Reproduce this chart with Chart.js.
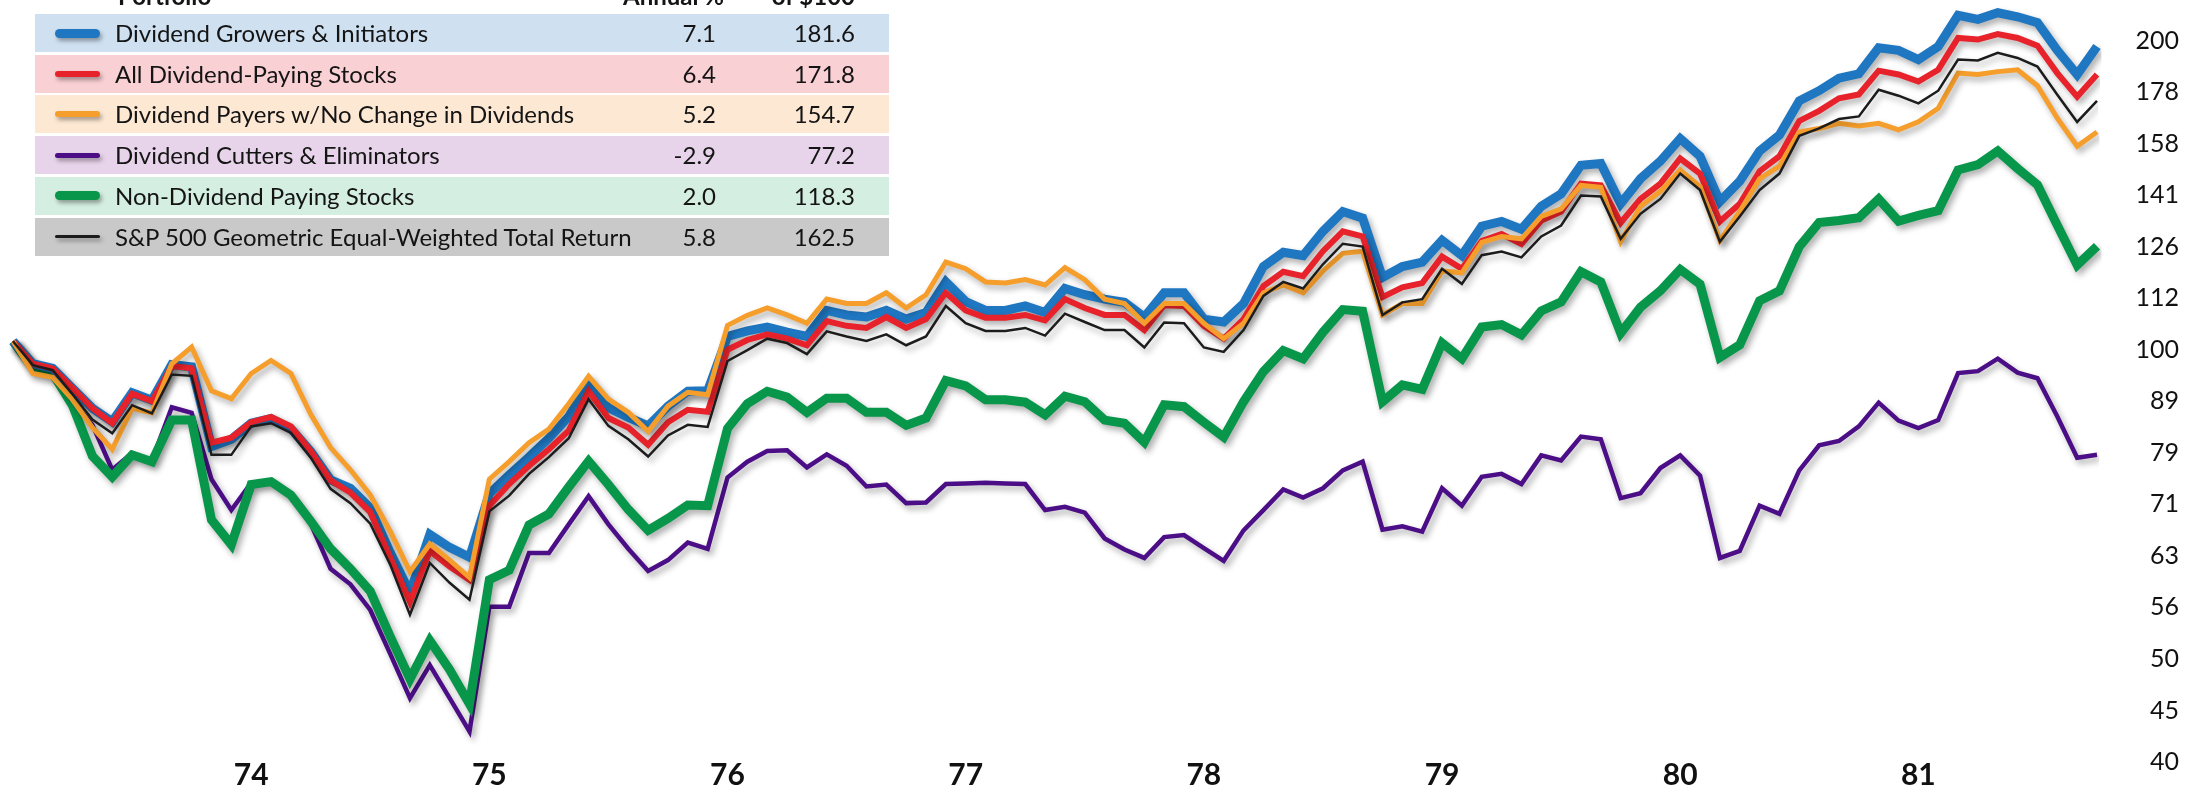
<!DOCTYPE html>
<html>
<head>
<meta charset="utf-8">
<title>Dividend portfolios</title>
<script src="https://cdn.jsdelivr.net/npm/chart.js@4.4.1/dist/chart.umd.min.js"></script>
<style>
    html, body { margin: 0; padding: 0; background: #fff; }
    body { width: 2205px; height: 792px; position: relative; overflow: hidden; font-family: Lato, 'Open Sans', sans-serif; color: #141414; }
    #chart { position: absolute; left: 0; top: 0; }
    #legend { position: absolute; left: 35px; top: 0; width: 854px; height: 260px; }
    .hdr { position: absolute; top: -40px; font-weight: 700; font-size: 24px; line-height: 24px; white-space: nowrap; }
    .row { position: absolute; left: 0; width: 854px; height: 38px; }
    .sw { position: absolute; left: 20px; width: 45px; border-radius: 5px; box-shadow: 2px 3px 4px rgba(0,0,0,.35); }
    .name { position: absolute; left: 80px; top: 0; line-height: 38px; font-size: 24px; white-space: nowrap; }
    .num { position: absolute; top: 0; line-height: 38px; font-size: 24px; text-align: right; white-space: nowrap; }
</style>
</head>
<body>
<canvas id="chart" width="2205" height="792"></canvas>
<div id="legend"></div>
<script>
// Monthly growth values, one point per month (first point early 1973)
const growers = [101.9,96.9,95.9,91.7,87.7,85.1,90.8,89.3,96.7,96.2,
    80.5,81.8,84.8,85.7,83.8,79.6,74.7,73.3,70.1,63.5,
    58.0,66.1,64.2,62.8,72.4,75.5,78.6,82.0,86.1,92.7,
    87.8,85.9,84.3,88.1,91.1,91.2,103.0,104.3,105.2,104.0,
    103.0,109.2,108.1,107.6,109.2,107.1,108.7,116.4,111.4,109.2,
    109.2,110.3,108.7,114.7,113.1,112.0,111.2,107.6,113.6,113.6,
    107.1,106.4,110.9,120.5,124.4,123.5,130.4,136.3,134.3,117.6,
    120.5,121.7,127.8,123.5,131.9,133.3,131.0,137.9,141.8,151.2,
    151.8,138.7,146.7,152.6,160.5,154.3,139.4,145.9,156.1,161.8,
    174.7,178.7,183.8,185.6,196.7,195.6,191.6,197.3,211.6,209.7,
    212.8,210.9,208.1,195.6,185.3,197.3];
const allPayers = [101.9,96.9,95.9,91.8,87.7,84.8,90.6,89.1,96.4,95.9,
    81.2,82.1,85.0,86.0,84.2,79.7,74.6,72.6,69.5,62.8,
    56.8,63.7,61.5,59.7,70.5,74.0,77.1,80.0,83.4,91.1,
    85.8,84.0,80.8,85.0,87.4,87.0,100.0,102.2,103.5,102.5,
    101.0,106.6,105.5,105.0,107.6,105.0,107.1,113.6,109.2,107.4,
    107.4,108.1,106.8,112.0,109.8,108.1,108.1,104.5,110.5,110.3,
    105.5,102.5,107.1,115.3,119.1,117.9,124.7,130.4,128.9,112.5,
    115.0,116.1,123.2,119.9,127.6,129.6,126.7,133.6,136.3,145.1,
    144.5,132.9,140.2,145.1,153.5,148.4,133.3,138.7,149.2,154.3,
    167.0,170.8,175.7,177.2,186.9,185.3,182.4,187.3,201.1,200.4,
    202.9,201.1,197.7,185.9,176.3,185.3];
const noChange = [101.9,94.8,94.0,89.4,84.0,80.0,87.7,86.8,96.9,100.6,
    91.2,89.6,94.8,97.6,94.8,86.5,80.3,76.4,72.2,66.6,
    60.8,64.7,62.4,60.0,74.8,77.8,81.2,83.7,88.6,94.2,
    89.5,86.9,83.3,88.1,90.9,90.4,105.6,108.0,109.8,108.1,
    106.1,112.0,110.9,110.9,113.6,109.8,113.1,121.7,119.9,116.4,
    116.1,117.0,115.6,120.2,117.0,112.0,110.9,106.1,110.9,110.9,
    106.1,102.5,106.1,113.6,115.6,113.6,119.3,124.1,124.7,108.1,
    110.9,110.9,119.3,118.8,127.2,128.9,128.2,134.8,137.1,144.5,
    143.9,127.4,137.9,142.6,149.6,144.2,127.7,136.3,146.7,150.9,
    162.9,164.2,166.1,165.1,166.1,163.7,166.7,171.8,185.9,185.3,
    186.5,187.3,180.7,168.0,157.8,162.9];
const cutters = [101.9,96.6,95.5,89.3,84.5,76.4,79.3,78.0,87.9,86.8,
    74.8,69.8,74.2,74.6,72.2,67.7,61.2,59.1,55.8,50.6,
    45.8,49.3,45.8,42.5,56.2,56.2,63.4,63.4,67.6,72.0,
    67.6,64.0,60.9,62.4,64.9,64.0,75.1,77.8,79.7,79.8,
    76.8,79.1,77.1,73.6,73.9,70.9,71.0,74.0,74.1,74.2,
    74.1,74.0,69.8,70.3,69.4,65.5,63.9,62.7,65.7,66.0,
    64.1,62.3,66.7,69.8,73.1,71.8,73.3,76.3,77.8,66.8,
    67.3,66.5,73.3,70.5,75.2,75.7,74.0,78.9,78.0,82.3,
    81.8,71.7,72.5,76.7,78.9,75.4,62.7,63.7,70.5,69.2,
    76.3,80.7,81.5,84.2,88.8,85.3,83.9,85.4,94.9,95.3,
    98.0,95.0,93.8,86.1,78.5,79.0];
const nonPayers = [101.9,95.9,94.8,88.2,78.8,75.2,79.0,77.8,85.4,85.4,
    68.3,64.6,73.9,74.4,72.2,68.1,64.0,61.2,58.2,52.6,
    47.8,52.1,48.8,45.2,59.7,61.0,67.5,69.2,73.5,77.9,
    73.9,69.9,66.7,68.5,70.6,70.5,83.8,88.6,91.1,89.9,
    86.9,89.7,89.7,86.9,86.9,84.4,85.8,93.3,92.2,89.4,
    89.4,88.9,86.4,90.1,89.0,85.4,84.8,81.3,88.4,88.0,
    85.0,82.2,89.0,95.2,99.8,98.0,104.0,109.4,109.0,89.0,
    92.4,91.5,101.5,98.0,105.2,105.8,103.4,109.1,111.3,119.1,
    116.4,103.8,110.0,114.1,119.7,115.8,98.3,101.1,111.6,114.1,
    126.0,133.0,133.6,134.4,140.2,133.4,135.1,136.6,149.6,151.4,
    156.1,150.1,144.7,132.2,120.9,126.1];
const equalWeighted = [101.9,96.6,95.5,90.5,85.5,82.9,88.3,86.7,94.6,94.3,
    79.0,79.0,84.2,84.8,83.0,78.5,73.2,70.9,67.7,61.8,
    55.2,62.0,59.3,57.1,69.6,72.1,75.7,78.6,82.0,89.5,
    84.3,81.8,78.7,82.5,84.5,84.1,97.5,99.9,102.5,101.5,
    99.0,104.2,103.0,102.0,103.5,101.0,103.0,110.3,106.1,104.3,
    104.3,105.0,103.2,108.4,106.4,104.5,104.5,100.5,106.3,106.1,
    100.5,99.5,104.5,112.8,116.4,114.7,121.1,126.8,126.0,108.1,
    111.2,112.0,119.9,115.9,123.6,124.6,123.0,128.9,132.1,141.3,
    141.0,128.2,135.6,140.2,148.4,143.0,127.4,134.8,143.0,148.4,
    161.5,164.2,167.7,168.7,179.1,176.7,173.7,178.7,191.6,191.2,
    194.5,192.3,188.6,177.1,166.6,174.7];

const seriesNames = ['Dividend Growers & Initiators', 'All Dividend-Paying Stocks',
    'Dividend Payers w/No Change in Dividends', 'Dividend Cutters & Eliminators',
    'Non-Dividend Paying Stocks', 'S&P 500 Geometric Equal-Weighted Total Return'];
const annualPct = ['7.1', '6.4', '5.2', '-2.9', '2.0', '5.8'];
const growthOf100 = ['181.6', '171.8', '154.7', '77.2', '118.3', '162.5'];
const headerTop = ['', '', 'Growth'];
const headerBottom = ['Portfolio', 'Annual %', 'of $100'];

const yearLabels = ['74', '75', '76', '77', '78', '79', '80', '81'];
const yTickLabels = ['40', '45', '50', '56', '63', '71', '79', '89', '100', '112', '126', '141', '158', '178', '200'];

// styles
const lineColors = ['#1f77c2', '#e8222a', '#f59e2c', '#4b0e86', '#07964a', '#1c1c1c'];
const rowColors = ['#cfe1f1', '#f9d0d4', '#fde8d4', '#e8d4ea', '#d4eee1', '#c9c9c9'];
const lineWidths = [9, 6, 5, 4.5, 9, 2.5];
const swatchHeights = [9, 6, 6, 5, 9, 3];
const drawOrder = [3, 2, 1, 5, 4, 0]; // lower = drawn on top

const seriesData = [growers, allPayers, noChange, cutters, nonPayers, equalWeighted];

// table (legend)
const legend = document.getElementById('legend');
const hdrPos = [{ left: '83px' }, { right: '165px' }, { right: '34px' }];
headerBottom.forEach((txt, k) => {
    const d = document.createElement('div');
    d.className = 'hdr';
    Object.assign(d.style, hdrPos[k]);
    if (k > 0) d.style.textAlign = 'right';
    d.innerHTML = '<div>' + (headerTop[k] || '&nbsp;') + '</div><div></div>';
    d.children[1].textContent = txt;
    legend.appendChild(d);
});
seriesNames.forEach((name, k) => {
    const row = document.createElement('div');
    row.className = 'row';
    row.style.top = (14 + k * 40.7) + 'px';
    row.style.background = rowColors[k];
    row.innerHTML = '<div class="sw"></div><div class="name"></div><div class="num"></div><div class="num"></div>';
    const sw = row.children[0];
    sw.style.background = lineColors[k];
    sw.style.height = swatchHeights[k] + 'px';
    sw.style.top = (19 - swatchHeights[k] / 2) + 'px';
    row.children[1].textContent = name;
    row.children[2].textContent = annualPct[k];
    row.children[2].style.right = '173px';
    row.children[3].textContent = growthOf100[k];
    row.children[3].style.right = '34px';
    legend.appendChild(row);
});

// soft drop shadow under every line
const lineShadow = {
    id: 'lineShadow',
    beforeDatasetDraw(chart) {
        const c = chart.ctx;
        c.save();
        c.shadowColor = 'rgba(0,0,0,0.32)';
        c.shadowBlur = 6;
        c.shadowOffsetX = 3;
        c.shadowOffsetY = 4;
    },
    afterDatasetDraw(chart) {
        chart.ctx.restore();
    }
};

const xLabels = growers.map((_, i) => (i % 12 === 0 && i > 0) ? yearLabels[i / 12 - 1] : '');
const yTickValues = yTickLabels.map((_, k) => 100 * Math.pow(2, (k - 8) / 6));

new Chart(document.getElementById('chart').getContext('2d'), {
    type: 'line',
    data: {
        labels: xLabels,
        datasets: seriesData.map((d, k) => ({
            label: seriesNames[k],
            data: d,
            borderColor: lineColors[k],
            borderWidth: lineWidths[k],
            pointRadius: 0,
            tension: 0,
            fill: false,
            order: drawOrder[k]
        }))
    },
    options: {
        responsive: false,
        animation: false,
        layout: { padding: { left: 13, right: 26, top: 2, bottom: 0 } },
        plugins: { legend: { display: false }, tooltip: { enabled: false } },
        scales: {
            x: {
                type: 'category',
                offset: false,
                grid: { display: false, drawTicks: false },
                border: { display: false },
                ticks: {
                    autoSkip: false, maxRotation: 0, minRotation: 0, padding: -5,
                    color: '#111',
                    font: { family: 'Lato', size: 30, weight: 'bold' }
                },
                afterFit: s => { s.height = 30; s.paddingLeft = 0; s.paddingRight = 0; }
            },
            y: {
                type: 'logarithmic',
                position: 'right',
                min: yTickValues[0],
                max: 218,
                grid: { display: false, drawTicks: false },
                border: { display: false },
                afterBuildTicks: s => { s.ticks = yTickValues.map(v => ({ value: v })); },
                ticks: {
                    callback: (v, i) => yTickLabels[i],
                    crossAlign: 'far',
                    padding: 40,
                    color: '#111',
                    font: { family: 'Lato', size: 25 }
                },
                afterFit: s => { s.width = 82; s.paddingTop = 0; s.paddingBottom = 0; }
            }
        }
    },
    plugins: [lineShadow]
});
</script>
</body>
</html>
